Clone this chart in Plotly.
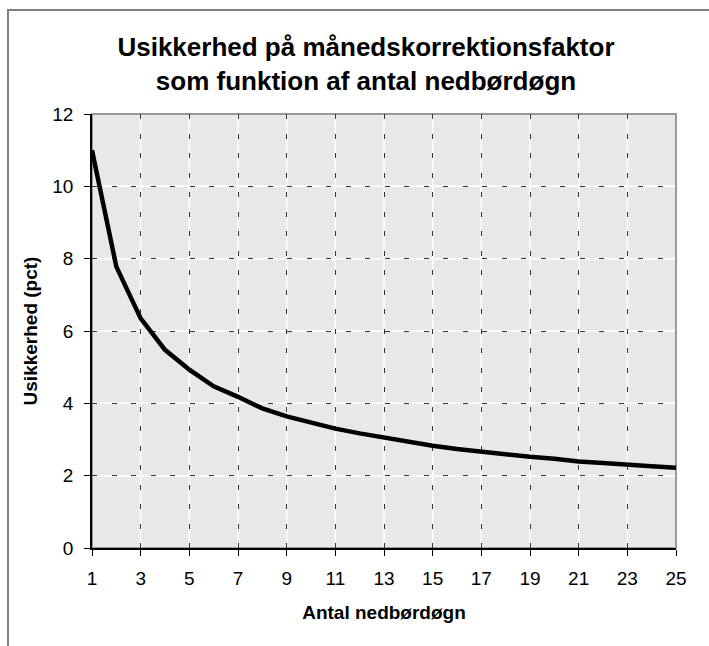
import plotly.graph_objects as go

# Data
days = list(range(1, 26))
uncertainty = [11.0, 7.78, 6.35, 5.48, 4.93, 4.47, 4.18, 3.86, 3.64, 3.46,
               3.30, 3.17, 3.05, 2.95, 2.83, 2.74, 2.66, 2.61, 2.52, 2.47,
               2.39, 2.35, 2.29, 2.26, 2.22]

x_ticks = [1, 3, 5, 7, 9, 11, 13, 15, 17, 19, 21, 23, 25]
y_ticks = [0, 2, 4, 6, 8, 10, 12]

title_text = "Usikkerhed på månedskorrektionsfaktor<br>som funktion af antal nedbørdøgn"
x_title = "Antal nedbørdøgn"
y_title = "Usikkerhed (pct)"

FONT = "Liberation Sans, Arial, sans-serif"
W, H = 709, 646
L, R, T, B = 92, 676, 114, 548

fig = go.Figure()
fig.add_trace(go.Scatter(x=days, y=uncertainty, mode="lines",
                         line=dict(color="black", width=4.5),
                         hoverinfo="x+y", showlegend=False))

shapes = []
# white solid gridlines under the dashed ones
for xv in x_ticks[1:]:
    shapes.append(dict(type="line", xref="x", yref="paper", x0=xv, x1=xv, y0=0, y1=1,
                       line=dict(color="white", width=1.5), layer="below"))
for yv in y_ticks[1:]:
    shapes.append(dict(type="line", xref="paper", yref="y", x0=0, x1=1, y0=yv, y1=yv,
                       line=dict(color="white", width=1.5), layer="below"))
# grey plot-area frame
shapes.append(dict(type="rect", xref="paper", yref="paper", x0=0, x1=1, y0=0, y1=1,
                   line=dict(color="#9a9a9a", width=2), layer="below"))
# outer chart border (extends past the right/bottom of the window)
pw, ph = R - L, B - T
shapes.append(dict(type="rect", xref="paper", yref="paper",
                   x0=(8 - L) / pw, x1=(W + 16 - L) / pw,
                   y0=(B - (H + 10)) / ph, y1=(B - 10) / ph,
                   line=dict(color="#808080", width=2), fillcolor="rgba(0,0,0,0)",
                   layer="below"))

fig.update_layout(
    width=W, height=H,
    margin=dict(l=L, r=W - R, t=T, b=H - B, pad=0),
    paper_bgcolor="white",
    plot_bgcolor="#e8e8e8",
    font=dict(family=FONT, color="black", size=19),
    title=dict(text=title_text, x=366 / W, xanchor="center",
               y=1 - 56 / H, yanchor="middle", yref="container",
               font=dict(family=FONT, size=26, color="black", weight="bold")),
    shapes=shapes,
    xaxis=dict(range=[1, 25], tickmode="array", tickvals=x_ticks,
               ticktext=[str(v) for v in x_ticks],
               showgrid=True, gridcolor="#333333", gridwidth=1, griddash="5px,14.5px",
               showline=True, linecolor="black", linewidth=1.5,
               ticks="outside", ticklen=6, tickcolor="black", tickwidth=1,
               ticklabelstandoff=6,
               zeroline=False, tickfont=dict(size=19, family=FONT),
               title=dict(text=x_title, standoff=18,
                          font=dict(size=19, family=FONT, weight="bold"))),
    yaxis=dict(range=[0, 12], tickmode="array", tickvals=y_ticks,
               ticktext=[str(v) for v in y_ticks],
               showgrid=True, gridcolor="#333333", gridwidth=1, griddash="5px,14.5px",
               showline=True, linecolor="black", linewidth=1.5,
               ticks="outside", ticklen=6, tickcolor="black", tickwidth=1,
               ticklabelstandoff=7,
               zeroline=False, tickfont=dict(size=19, family=FONT),
               title=dict(text=y_title, standoff=10,
                          font=dict(size=19, family=FONT, weight="bold"))),
)

fig.write_html("out.html")
